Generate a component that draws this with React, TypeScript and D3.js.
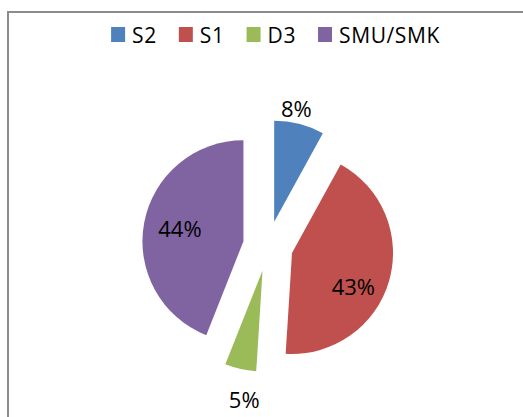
import React, { useEffect, useRef } from 'react';
import * as d3 from 'd3';

// data
const categories = ['S2', 'S1', 'D3', 'SMU/SMK'];
const shares = [8, 43, 5, 44];
const colors = ['#4F81BD', '#C0504D', '#9BBB59', '#8064A2'];

const App = () => {
  const svgRef = useRef<SVGSVGElement>(null);

  useEffect(() => {
    const width = 523;
    const height = 417;
    const cx = 268;
    const cy = 246;
    const radius = 101;
    const explode = 25;
    const font = '"Open Sans", "Liberation Sans", sans-serif';

    const svg = d3.select(svgRef.current);
    svg.selectAll('*').remove();
    svg.attr('width', width).attr('height', height);

    // white background + chart frame (bottom/right edges fall outside the view)
    svg.append('rect')
      .attr('width', width).attr('height', height)
      .attr('fill', '#fff');
    svg.append('rect')
      .attr('x', 8).attr('y', 12)
      .attr('width', width + 20).attr('height', height + 20)
      .attr('fill', 'none')
      .attr('stroke', '#8c8c8c')
      .attr('stroke-width', 2);

    const data = categories.map((c, i) => ({ name: c, value: shares[i], color: colors[i] }));

    const pie = d3.pie<any>()
      .value(d => d.value)
      .sort(null);

    const arc = d3.arc<any>()
      .innerRadius(0)
      .outerRadius(radius);

    const arcs = pie(data);

    const g = svg.append('g')
      .attr('transform', 'translate(' + cx + ',' + cy + ')');

    const slices = g.selectAll('g.slice')
      .data(arcs)
      .enter()
      .append('g')
      .attr('class', 'slice')
      .attr('transform', d => {
        const mid = (d.startAngle + d.endAngle) / 2;
        return 'translate(' + (Math.sin(mid) * explode) + ',' + (-Math.cos(mid) * explode) + ')';
      });

    slices.append('path')
      .attr('d', arc)
      .attr('fill', d => d.data.color);

    // labels: small slices outside, big ones inside
    const labelPos = d => {
      const outside = d.data.value < 10;
      const a = (d.startAngle + d.endAngle) / 2 + (outside ? -0.07 : 0.12);
      const lr = outside ? radius + 22 : radius * 0.66;
      return [Math.sin(a) * lr, -Math.cos(a) * lr + 7];
    };

    slices.append('text')
      .attr('x', d => labelPos(d)[0])
      .attr('y', d => labelPos(d)[1])
      .attr('text-anchor', 'middle')
      .attr('dominant-baseline', 'central')
      .attr('font-family', font)
      .attr('font-size', 22)
      .attr('fill', '#000')
      .text(d => d.data.value + '%');

    // legend across the top, centred
    const legend = svg.append('g');
    const items = legend.selectAll('g.item')
      .data(data)
      .enter()
      .append('g')
      .attr('class', 'item');

    items.append('rect')
      .attr('width', 14)
      .attr('height', 15)
      .attr('y', 27)
      .attr('fill', d => d.color);

    items.append('text')
      .attr('x', 21)
      .attr('y', 34.5)
      .attr('dominant-baseline', 'central')
      .attr('font-family', font)
      .attr('font-size', 21)
      .attr('letter-spacing', 0.6)
      .attr('fill', '#000')
      .text(d => d.name);

    let x = 0;
    items.each(function () {
      const node = this as SVGGElement;
      d3.select(node).attr('transform', 'translate(' + x + ',0)');
      x += node.getBBox().width + 22;
    });
    const total = x - 22;
    legend.attr('transform', 'translate(' + (275.5 - total / 2) + ',0)');
  }, []);

  return (
    <svg
      ref={svgRef}
      style={{ position: 'absolute', left: 0, top: 0, display: 'block' }}
    />
  );
};

export default App;
